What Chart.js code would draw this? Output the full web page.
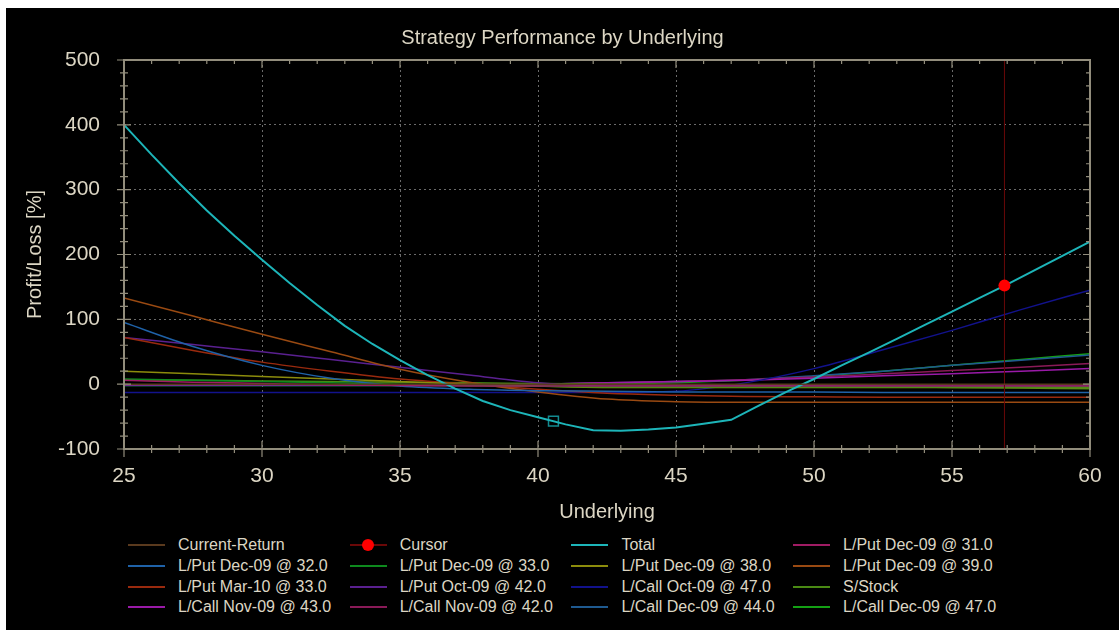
<!DOCTYPE html>
<html lang="en">
<head>
  <meta charset="UTF-8">
  <title>Strategy Performance by Underlying</title>
  <script src="https://cdn.jsdelivr.net/npm/chart.js@4.4.1/dist/chart.umd.min.js"></script>
  <style>
    body { margin: 0; background: #fff; }
    .panel {
      position: absolute; left: 6px; top: 8px;
      width: 1113px; height: 622px;
      background: #000;
      font-family: "Liberation Sans", Arial, sans-serif;
    }
    #chart { position: absolute; left: 0; top: 0; }
    #legend {
      position: absolute; left: 122px; top: 527px;
      display: grid;
      grid-template-columns: repeat(4, 221.7px);
      grid-auto-rows: 20.67px;
      color: #dcd6c4; font-size: 16px;
    }
    .item { display: flex; align-items: center; white-space: nowrap; }
    .swatch { position: relative; width: 37px; height: 2px; margin-right: 13px; }
    .dot {
      position: absolute; left: 12.5px; top: -5px;
      width: 12px; height: 12px; border-radius: 50%; background: #ff0000;
    }
  </style>
</head>
<body>
  <div class="panel">
    <canvas id="chart" width="1113" height="520"></canvas>
    <div id="legend"></div>
  </div>
  <script>
    // underlying prices
    const xSteps = [25, 27.5, 30, 32.5, 35, 37.5, 40, 42.5, 45, 47.5, 50, 52.5, 55, 57.5, 60];
    const totalX = [25, 26, 27, 28, 29, 30, 31, 32, 33, 34, 35, 36, 37, 38, 39, 40, 41, 42,
                    43, 44, 45, 46, 47, 48, 49, 50, 51, 52, 53, 54, 55, 56, 57, 58, 59, 60];

    // profit / loss in %
    const total = [400, 354, 310, 268, 229, 192, 156, 122, 90, 62, 37, 14, -7, -26, -40, -51, -62, -71,
                   -72, -70, -67, -61, -55, -33, -12, 8, 29, 49, 70, 91, 112, 133, 154, 176, 198, 220];
    const currentReturn = [0, 0, 0, 0, 0, 0, 0, 0, 0, 0, 0, 0, 0, 0, 0];
    const putDec31 = [6, 3, 1, -1, -2, -3, -3, -3, -3, -3, -3, -3, -3, -3, -3];
    const putDec32 = [95, 58, 29, 9, -3, -8, -10, -11, -12, -12, -12, -13, -13, -13, -13];
    const putDec33 = [8, 6, 4, 2, 0, -2, -3, -4, -4, -4, -4, -4, -4, -4, -4];
    const putDec38 = [20, 16, 12, 8, 4, 0, -3, -5, -5, -5, -5, -5, -5, -5, -5];
    const putDec39 = [133, 105, 77, 50, 23, 3, -12, -23, -27, -28, -28, -28, -28, -28, -28];
    const putMar33 = [72, 52, 34, 20, 8, 0, -8, -14, -17, -19, -19.5, -20, -20, -20, -20];
    const putOct42 = [72, 61, 50, 38, 26, 14, 2, -3, -3, -3, -3, -3, -3, -3, -3];
    const callOct47 = [-13, -13, -13, -13, -13, -13, -13, -13, -11, 2, 24, 53, 83, 115, 145];
    const sStock = [7, 6, 5, 4, 3, 2, 1, 0, -1, -2, -3, -4, -5, -6, -7];
    const callNov43 = [-1, -1, -1, -1, -1, -1, 0, 2, 4, 6, 9, 13, 16, 20, 24];
    const callNov42 = [-1, -1, -1, -1, -1, -1, 0, 2, 4, 7, 11, 16, 21, 26, 32];
    const callDec44 = [-2, -2, -2, -2, -2, -1, 0, 2, 4, 7, 13, 20, 29, 37, 45];
    const callDec47 = [-2, -2, -2, -2, -2, -2, -1, 0, 2, 6, 12, 20, 29, 38, 47];

    const cursorX = 56.9;
    const cursorY = 152;
    const markerX = 40.56;
    const markerY = -57;

    const textColor = '#dcd6c4';
    const frameColor = '#928d7c';
    Chart.defaults.font.family = '"Liberation Sans", Arial, sans-serif';

    const pts = (xs, ys) => xs.map((x, i) => ({ x, y: ys[i] }));

    function series(label, ys, color) {
      return {
        label, data: pts(xSteps, ys), borderColor: color, backgroundColor: color,
        borderWidth: 1.5, pointRadius: 0, cubicInterpolationMode: 'monotone'
      };
    }

    const datasets = [
      series('Current-Return', currentReturn, '#5a3a1e'),
      {
        label: 'Cursor',
        data: [{ x: cursorX, y: -100 }, { x: cursorX, y: cursorY }, { x: cursorX, y: 500 }],
        borderColor: '#6a0808', borderWidth: 1,
        pointRadius: c => (c.dataIndex === 1 ? 6 : 0),
        pointBackgroundColor: '#ff0000', pointBorderWidth: 0
      },
      {
        label: 'Total', data: pts(totalX, total), borderColor: '#1db5b9',
        backgroundColor: '#1db5b9', borderWidth: 2, pointRadius: 0, tension: 0
      },
      series('L/Put Dec-09 @ 31.0', putDec31, '#a01c64'),
      series('L/Put Dec-09 @ 32.0', putDec32, '#1f62a8'),
      series('L/Put Dec-09 @ 33.0', putDec33, '#0e8a1e'),
      series('L/Put Dec-09 @ 38.0', putDec38, '#8c8c0c'),
      series('L/Put Dec-09 @ 39.0', putDec39, '#9a4a12'),
      series('L/Put Mar-10 @ 33.0', putMar33, '#9a2a0e'),
      series('L/Put Oct-09 @ 42.0', putOct42, '#5a2090'),
      series('L/Call Oct-09 @ 47.0', callOct47, '#12128c'),
      series('S/Stock', sStock, '#4a8a14'),
      series('L/Call Nov-09 @ 43.0', callNov43, '#9a1aa8'),
      series('L/Call Nov-09 @ 42.0', callNov42, '#8a1a58'),
      series('L/Call Dec-09 @ 44.0', callDec44, '#1f5a90'),
      series('L/Call Dec-09 @ 47.0', callDec47, '#14a014'),
      {
        label: 'marker', data: [{ x: markerX, y: markerY }], showLine: false,
        pointStyle: 'rect', pointRadius: 7, pointBorderColor: '#138a90',
        pointBackgroundColor: 'rgba(0,0,0,0)', pointBorderWidth: 1.5, hideInLegend: true
      }
    ];

    // axis frame with minor ticks, like the original
    const frame = {
      id: 'frame',
      afterDatasetsDraw(chart) {
        const { ctx, chartArea: a, scales: { x, y } } = chart;
        ctx.save();
        ctx.strokeStyle = frameColor;
        ctx.lineWidth = 2;
        ctx.strokeRect(a.left, a.top, a.width, a.height);
        ctx.lineWidth = 1.2;
        ctx.beginPath();
        for (let v = x.min; v <= x.max; v += 1) {
          const px = x.getPixelForValue(v);
          const len = v % 5 === 0 ? 8 : 4;
          ctx.moveTo(px, a.bottom - len); ctx.lineTo(px, a.bottom + len);
          ctx.moveTo(px, a.top); ctx.lineTo(px, a.top + len);
        }
        for (let v = y.min; v <= y.max; v += 20) {
          const py = y.getPixelForValue(v);
          const len = v % 100 === 0 ? 7 : 4;
          ctx.moveTo(a.left - len, py); ctx.lineTo(a.left + len, py);
          ctx.moveTo(a.right - len, py); ctx.lineTo(a.right, py);
        }
        ctx.stroke();
        ctx.restore();
      }
    };

    const gridColor = c => (c.tick && (c.index === 0 || c.index === c.scale.ticks.length - 1)
      ? 'rgba(0,0,0,0)' : '#6a6a6a');

    const chart = new Chart(document.getElementById('chart'), {
      type: 'line',
      data: { datasets },
      options: {
        responsive: false,
        animation: false,
        layout: { padding: 0 },
        plugins: {
          legend: { display: false },
          tooltip: { enabled: false },
          title: {
            display: true, text: 'Strategy Performance by Underlying', color: textColor,
            font: { size: 20, weight: 'normal' }, padding: { top: 18, bottom: 10 }
          }
        },
        scales: {
          x: {
            type: 'linear', min: 25, max: 60,
            ticks: { stepSize: 5, color: textColor, font: { size: 21 }, padding: 15, maxRotation: 0 },
            grid: { color: gridColor, drawTicks: false },
            border: { display: false, dash: [2, 3] },
            title: {
              display: true, text: 'Underlying', color: textColor,
              font: { size: 20 }, padding: { top: 8, bottom: 4 }
            },
            afterFit: s => { s.height = 79; }
          },
          y: {
            min: -100, max: 500,
            ticks: { stepSize: 100, color: textColor, font: { size: 21 }, padding: 24 },
            grid: { color: gridColor, drawTicks: false },
            border: { display: false, dash: [2, 3] },
            title: {
              display: true, text: 'Profit/Loss [%]', color: textColor,
              font: { size: 20 }, padding: { top: 17, bottom: 0 }
            },
            afterFit: s => { s.width = 118; }
          },
          // empty right-hand strip keeps the plot clear of the panel edge
          yRight: {
            position: 'right', display: true,
            ticks: { display: false }, grid: { display: false }, border: { display: false },
            afterFit: s => { s.width = 29; }
          }
        }
      },
      plugins: [frame]
    });

    // legend in four aligned columns
    const legend = document.getElementById('legend');
    chart.data.datasets.filter(d => !d.hideInLegend).forEach(d => {
      const item = document.createElement('div');
      item.className = 'item';
      const sw = document.createElement('span');
      sw.className = 'swatch';
      sw.style.background = d.borderColor;
      if (d.label === 'Cursor') {
        const dot = document.createElement('span');
        dot.className = 'dot';
        sw.appendChild(dot);
      }
      item.appendChild(sw);
      item.appendChild(document.createTextNode(d.label));
      legend.appendChild(item);
    });
  </script>
</body>
</html>
